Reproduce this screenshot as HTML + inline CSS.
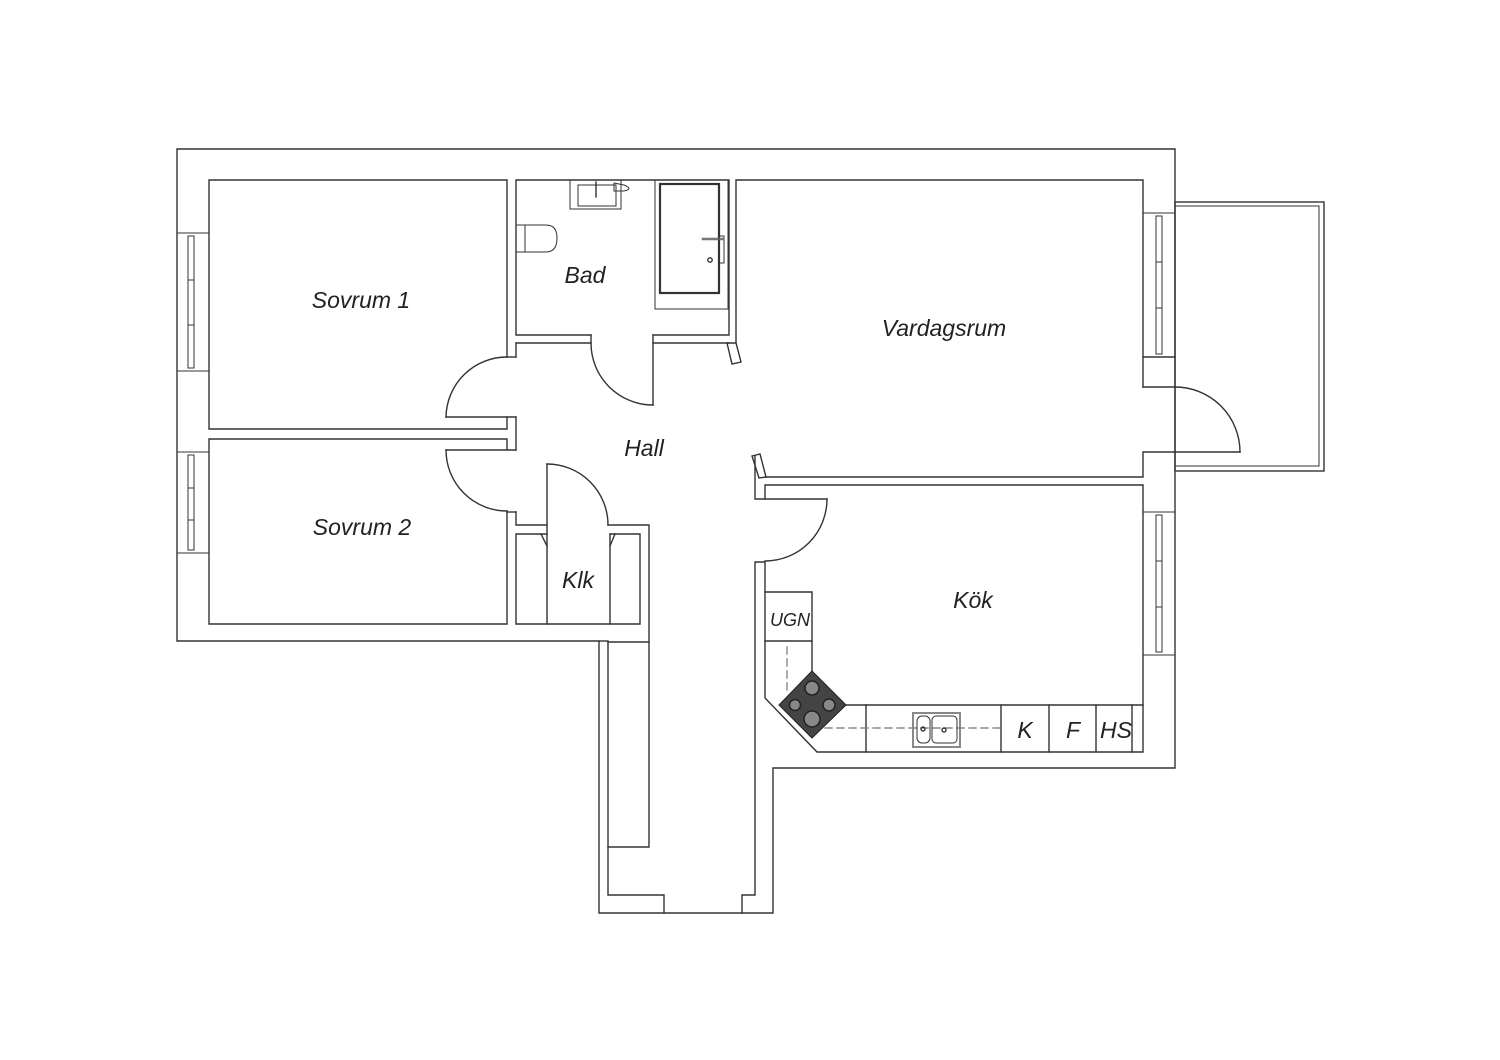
<!DOCTYPE html>
<html><head><meta charset="utf-8"><style>
html,body{margin:0;padding:0;background:#fff;}
svg{display:block;}
text{font-family:"Liberation Sans",sans-serif;font-style:italic;fill:#222;}
</style></head><body>
<svg width="1500" height="1060" viewBox="0 0 1500 1060" xmlns="http://www.w3.org/2000/svg">
<g fill="none" stroke="#333" stroke-width="1.4" stroke-linecap="square">
<!-- outer boundary -->
<polyline points="177,149 1175,149 1175,768 773,768 773,913 599,913 599,641 177,641 177,149"/>
<!-- Sovrum 1 -->
<polyline points="507,357 507,180 209,180 209,429 507,429 507,417"/>
<line x1="507" y1="357" x2="516" y2="357"/>
<line x1="446" y1="417" x2="516" y2="417"/>
<path d="M507,357 A61,61 0 0 0 446,417"/>
<!-- Sovrum 2 -->
<polyline points="507,450 507,439 209,439 209,624 507,624 507,511"/>
<line x1="446" y1="450" x2="516" y2="450"/>
<path d="M446,450 A61,61 0 0 0 507,511"/>
<line x1="507" y1="512" x2="516" y2="512"/>
<!-- hall left wall -->
<line x1="516" y1="343" x2="516" y2="357"/>
<line x1="516" y1="417" x2="516" y2="450"/>
<polyline points="516,512 516,525 547,525"/>
<!-- Bad -->
<polyline points="591,335 516,335 516,180 729,180 729,335 653,335"/>
<polyline points="591,335 591,343 516,343"/>
<polyline points="653,335 653,343 729,343"/>
<line x1="653" y1="343" x2="653" y2="405"/>
<path d="M591,343 A62,62 0 0 0 653,405"/>
<polygon points="727,343 736,343 741,362 732,364"/>
<!-- shower -->
<rect x="655" y="180" width="73" height="129" stroke-width="1"/>
<rect x="660" y="184" width="59" height="109" stroke-width="2.2"/>
<line x1="703" y1="239" x2="722" y2="239" stroke-width="2.5" stroke="#777"/>
<rect x="719" y="236" width="5" height="27" stroke-width="1"/>
<circle cx="710" cy="260" r="2.2"/>
<!-- sink -->
<rect x="570" y="180" width="51" height="29" stroke-width="1"/>
<rect x="578" y="185" width="38" height="21" stroke-width="1"/>
<line x1="596" y1="182" x2="596" y2="197"/>
<path d="M614,183 l10,2 q10,4 0,6 l-10,0 z" stroke-width="1"/>
<!-- toilet -->
<path d="M516,225 L546,225 Q557,225 557,238 Q557,252 546,252 L516,252" stroke-width="1"/>
<line x1="525" y1="225" x2="525" y2="252" stroke-width="1"/>
<!-- Vardagsrum -->
<polyline points="736,343 736,180 1143,180 1143,357 1175,357"/>
<polyline points="1175,387 1143,387 1143,387"/>
<line x1="1143" y1="357" x2="1143" y2="387"/>
<polyline points="1175,452 1143,452 1143,477 766,477"/>
<polygon points="752,456 760,454 766,477 759,478"/>
<line x1="1175" y1="452" x2="1240" y2="452"/>
<path d="M1175,387 A65,65 0 0 1 1240,452"/>
<!-- balcony -->
<rect x="1175" y="202" width="149" height="269"/>
<polyline points="1175,206 1319,206 1319,466 1175,466" stroke-width="1"/>
<!-- Kitchen -->
<polyline points="755,456 755,499 765,499 765,485 1143,485 1143,752 817,752 765,698 765,562 755,562 755,895 742,895 742,913"/>
<line x1="765" y1="499" x2="827" y2="499"/>
<path d="M827,499 A62,62 0 0 1 765,561"/>
<!-- counter -->
<polyline points="765,592 812,592 812,672"/>
<line x1="765" y1="641" x2="812" y2="641"/>
<line x1="846" y1="705" x2="1143" y2="705"/>
<line x1="866" y1="705" x2="866" y2="752"/>
<line x1="1001" y1="705" x2="1001" y2="752"/>
<line x1="1049" y1="705" x2="1049" y2="752"/>
<line x1="1096" y1="705" x2="1096" y2="752"/>
<line x1="1132" y1="705" x2="1132" y2="752"/>
<line x1="825" y1="728" x2="1001" y2="728" stroke-dasharray="7,5" stroke="#888"/>
<line x1="787" y1="647" x2="787" y2="693" stroke-dasharray="7,5" stroke="#888"/>
<!-- kitchen sink -->
<rect x="913" y="713" width="47" height="34" stroke="#888" stroke-width="2"/>
<rect x="917" y="716" width="13" height="27" rx="5" stroke-width="1"/>
<rect x="932" y="716" width="25" height="27" rx="4" stroke-width="1"/>
<circle cx="923" cy="729" r="2"/><circle cx="944" cy="730" r="2"/>
<!-- hall lower -->
<polyline points="608,642 608,895 664,895 664,913"/>
<line x1="608" y1="642" x2="649" y2="642"/>
<polyline points="608,525 649,525 649,847 608,847"/>
<line x1="600" y1="641" x2="608" y2="641"/>
<!-- Klk -->
<polyline points="541,534 516,534 516,624 640,624 640,534 615,534"/>
<line x1="547" y1="464" x2="547" y2="624"/>
<line x1="610" y1="534" x2="610" y2="624"/>
<polyline points="547,534 541,534 547,546"/>
<polyline points="610,534 615,534 610,546"/>
<path d="M547,464 A61,61 0 0 1 608,525"/>
<!-- windows -->
<g stroke-width="1">
<line x1="177" y1="233" x2="209" y2="233"/><line x1="177" y1="371" x2="209" y2="371"/>
<rect x="188" y="236" width="6" height="132"/><line x1="188" y1="280" x2="194" y2="280"/><line x1="188" y1="325" x2="194" y2="325"/>
<line x1="177" y1="452" x2="209" y2="452"/><line x1="177" y1="553" x2="209" y2="553"/>
<rect x="188" y="455" width="6" height="95"/><line x1="188" y1="488" x2="194" y2="488"/><line x1="188" y1="520" x2="194" y2="520"/>
<line x1="1143" y1="213" x2="1175" y2="213"/>
<rect x="1156" y="216" width="6" height="138"/><line x1="1156" y1="262" x2="1162" y2="262"/><line x1="1156" y1="308" x2="1162" y2="308"/>
<line x1="1143" y1="512" x2="1175" y2="512"/><line x1="1143" y1="655" x2="1175" y2="655"/>
<rect x="1156" y="515" width="6" height="137"/><line x1="1156" y1="561" x2="1162" y2="561"/><line x1="1156" y1="607" x2="1162" y2="607"/>
</g>
</g>
<!-- stove -->
<polygon points="812,671 846,705 812,738 779,705" fill="#444" stroke="#222"/>
<g fill="#888" stroke="#222" stroke-width="1.5">
<circle cx="812" cy="688" r="7"/><circle cx="829" cy="705" r="6"/><circle cx="795" cy="705" r="5.5"/><circle cx="812" cy="719" r="8"/>
</g>
<!-- labels -->
<text x="361" y="308" font-size="23" text-anchor="middle">Sovrum 1</text>
<text x="585" y="283" font-size="23" text-anchor="middle">Bad</text>
<text x="944" y="336" font-size="23" text-anchor="middle">Vardagsrum</text>
<text x="644" y="456" font-size="23" text-anchor="middle">Hall</text>
<text x="362" y="535" font-size="23" text-anchor="middle">Sovrum 2</text>
<text x="578" y="588" font-size="23" text-anchor="middle">Klk</text>
<text x="973" y="608" font-size="23" text-anchor="middle">Kök</text>
<text x="790" y="626" font-size="18" text-anchor="middle">UGN</text>
<text x="1025" y="738" font-size="23" text-anchor="middle">K</text>
<text x="1073" y="738" font-size="23" text-anchor="middle">F</text>
<text x="1116" y="738" font-size="23" text-anchor="middle">HS</text>
</svg>
</body></html>
